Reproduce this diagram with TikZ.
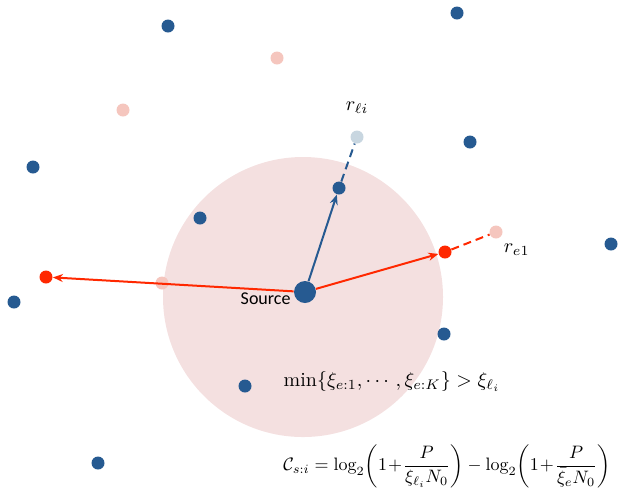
\documentclass[tikz,border=0pt]{standalone}
\usepackage{amsmath,amssymb}
\usepackage{fontspec}
\newfontfamily\srcfont{Carlito}
\usetikzlibrary{positioning,arrows.meta}

\definecolor{nodeblue}{RGB}{38,90,145}
\definecolor{zonepink}{RGB}{244,224,224}
\definecolor{ghostpink}{RGB}{245,198,190}
\definecolor{ghostblue}{RGB}{200,214,224}
\definecolor{evered}{RGB}{255,40,0}

\begin{document}
\begin{tikzpicture}[x=0.5pt, y=-0.5pt,
  bdot/.style={circle, fill=nodeblue, inner sep=0pt, minimum size=6.5pt},
  pdot/.style={circle, fill=ghostpink, inner sep=0pt, minimum size=6.5pt},
  gdot/.style={circle, fill=ghostblue, inner sep=0pt, minimum size=6.5pt},
  rdot/.style={circle, fill=evered, inner sep=0pt, minimum size=6.5pt},
  blink/.style={-{Stealth[length=5pt,width=4pt]}, line width=1pt, draw=nodeblue},
  rlink/.style={-{Stealth[length=5pt,width=4pt]}, line width=1pt, draw=evered},
  bdash/.style={dashed, dash pattern=on 4pt off 2.5pt, line width=1pt, draw=nodeblue},
  rdash/.style={dashed, dash pattern=on 4pt off 2.5pt, line width=1pt, draw=evered}]

  \useasboundingbox (0,0) rectangle (619,495);

  % coverage zone of the source
  \fill[zonepink] (303,297) circle [radius=70pt];

  % scattered legitimate nodes
  \node[bdot] (b1) at (168,26) {};
  \node[bdot] (b2) at (457,13) {};
  \node[bdot] (b3) at (33,167) {};
  \node[bdot] (b4) at (470,142) {};
  \node[bdot] (b5) at (200,218) {};
  \node[bdot] (b6) at (611,244) {};
  \node[bdot] (b7) at (14,302) {};
  \node[bdot] (b8) at (444,334) {};
  \node[bdot] (b9) at (245,386) {};
  \node[bdot] (b10) at (98,463) {};

  % faded eavesdroppers
  \node[pdot] (p1) at (277,58) {};
  \node[pdot] (p2) at (123,110) {};
  \node[pdot] (p3) at (162,283) {};
  \node[pdot] (re1) at (496,232) {};

  % relays and eavesdroppers
  \node[gdot] (rli) at (357,137) {};
  \node[bdot] (rl) at (339,188) {};
  \node[rdot] (eL) at (46,277) {};
  \node[rdot] (e1) at (445,252) {};
  \node[circle, fill=nodeblue, inner sep=0pt, minimum size=11pt] (src) at (305,292) {};

  % labels
  \node[left=0pt of src, font=\srcfont\small, yshift=-3.5pt, xshift=2pt] (srclbl) {Source};
  \node[above=5pt of rli] (rlilbl) {$r_{\ell i}$};
  \node[below right=0pt and -2pt of re1] (re1lbl) {$r_{e1}$};

  % links
  \draw[blink] (src) -- (rl);
  \draw[bdash] (rl) -- (rli);
  \draw[rlink] (src) -- (eL);
  \draw[rlink] (src) -- (e1);
  \draw[rdash] (e1) -- (re1);

  % formulas
  \node (cond) at (392,381) {$\min\{\xi_{e:1},\cdots,\xi_{e:K}\}>\xi_{\ell_i}$};
  \node[scale=0.9] (cap) at (447,466) {$\displaystyle \mathcal{C}_{s:i}=\log_2\!\left(1\!+\!\frac{P}{\xi_{\ell_i}N_0}\right)-\log_2\!\left(1\!+\!\frac{P}{\bar{\xi}_e N_0}\right)$};
\end{tikzpicture}
\end{document}
